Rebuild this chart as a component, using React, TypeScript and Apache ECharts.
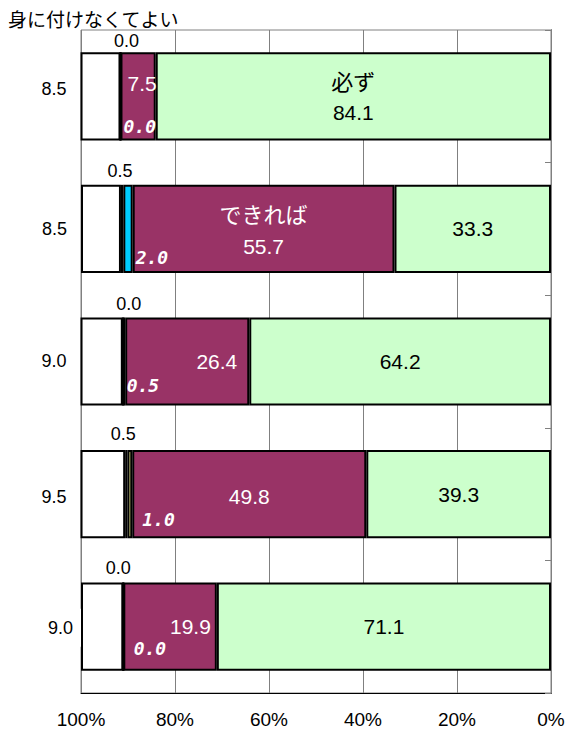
import React, { useEffect, useRef } from 'react';
import * as echarts from 'echarts';

// ---- data ----
const categories = ['1', '2', '3', '4', '5'];
const seriesNames = ['必ず', 'できれば', '系列3', '系列4', '身に付けなくてよい'];
const mustValues = [84.1, 33.3, 64.2, 39.3, 71.1];
const preferValues = [7.5, 55.7, 26.4, 49.8, 19.9];
const smallValues = [0.0, 2.0, 0.5, 1.0, 0.0];
const tinyValues = [0.0, 0.5, 0.0, 0.5, 0.0];
const notNeededValues = [8.5, 8.5, 9.0, 9.5, 9.0];
const xMin = 0;
const xMax = 100;
const xStep = 20;

// ---- styles / label placement ----
const FONT_NUM = "'Liberation Sans', 'Noto Sans CJK JP', sans-serif";
const FONT_JP = "'Noto Sans CJK JP', 'Noto Sans', sans-serif";
const FONT_MONO = "'DejaVu Sans Mono', monospace";
const GRAY = '#808080';
const smallColors = ['#00CCFF', '#00CCFF', '#00CCFF', '#FFFF99', '#00CCFF'];
const smallLabelNudge = [[2, 30], [3, 28.5], [1.5, 23.5], [10, 25], [9.4, 22]];
const tinyLabelDistance = [1, 5, 3.5, 7.5, 4.5];
const tinyLabelDx = [6, -2, 6, -3, -5];
const preferLabelPlace: any[] = [
  { position: 'insideRight', distance: 0, offset: [1, -13] },
  { position: 'inside', distance: 0, offset: [0, 1] },
  { position: 'insideRight', distance: 12, offset: [0, 0] },
  { position: 'inside', distance: 0, offset: [0, 2] },
  { position: 'insideRight', distance: 6, offset: [0, 0] },
];
const mustNamedRow = 0;
const preferNamedRow = 1;
const notNeededLabelDy = [-7, 0, -1, 3, 1];
const maskedLabelRow = 4;

const fmt = (v: number) => v.toFixed(1);

export default function App() {
  const ref = useRef<HTMLDivElement>(null);
  useEffect(() => {
    if (!ref.current) return;
    const chart = echarts.init(ref.current, null, { renderer: 'svg' });
    const barBase = {
      type: 'bar',
      stack: 'total',
      barCategoryGap: '33.5%',
      itemStyle: { borderColor: '#000', borderWidth: 2 },
      emphasis: { disabled: true },
    };
    const rich = (color: string) => ({
      n: { fontFamily: FONT_JP, fontSize: 22, lineHeight: 33, color },
      v: { fontFamily: FONT_NUM, fontSize: 21, lineHeight: 33, color },
    });
    const option: any = {
      animation: false,
      textStyle: { fontFamily: FONT_NUM },
      title: {
        text: seriesNames[4],
        left: 8,
        top: 8,
        padding: 0,
        textStyle: { fontFamily: FONT_JP, fontSize: 19, fontWeight: 'normal', color: '#000', lineHeight: 21 },
      },
      grid: {
        left: 81,
        right: 17,
        top: 30,
        bottom: 43,
        show: true,
        borderColor: GRAY,
        borderWidth: 1,
      },
      xAxis: {
        type: 'value',
        inverse: true,
        min: xMin,
        max: xMax,
        interval: xStep,
        axisLine: { show: true, lineStyle: { color: '#000', width: 1 } },
        axisTick: { show: false },
        axisLabel: {
          formatter: '{value}%',
          fontSize: 19,
          color: '#000',
          margin: 17,
          fontFamily: FONT_NUM,
        },
        splitLine: { show: true, lineStyle: { color: GRAY, width: 1 } },
      },
      yAxis: [
        {
          type: 'category',
          data: categories,
          inverse: true,
          position: 'left',
          axisLine: { show: true, lineStyle: { color: '#000', width: 1 } },
          axisTick: { show: false },
          axisLabel: { show: false },
          splitLine: { show: false },
        },
        {
          type: 'category',
          data: categories,
          inverse: true,
          position: 'right',
          axisLine: { show: true, lineStyle: { color: GRAY, width: 1 } },
          axisTick: { show: true, inside: true, length: 6, lineStyle: { color: GRAY } },
          axisLabel: { show: false },
          splitLine: { show: false },
        },
      ],
      series: [
        {
          ...barBase,
          name: seriesNames[0],
          itemStyle: { ...barBase.itemStyle, color: '#CCFFCC' },
          data: mustValues,
          label: {
            show: true,
            position: 'inside',
            formatter: (p: any) =>
              p.dataIndex === mustNamedRow
                ? `{n|${p.seriesName}}\n{v|${fmt(p.value)}}`
                : `{v|${fmt(p.value)}}`,
            rich: rich('#000'),
          },
        },
        {
          ...barBase,
          name: seriesNames[1],
          itemStyle: { ...barBase.itemStyle, color: '#993366' },
          data: preferValues.map((v, i) => ({
            value: v,
            label: { ...preferLabelPlace[i] },
          })),
          label: {
            show: true,
            formatter: (p: any) =>
              p.dataIndex === preferNamedRow
                ? `{n|${p.seriesName}}\n{v|${fmt(p.value)}}`
                : `{v|${fmt(p.value)}}`,
            rich: rich('#fff'),
          },
        },
        {
          ...barBase,
          name: seriesNames[2],
          data: smallValues.map((v, i) => ({
            value: v,
            itemStyle: { color: smallColors[i] },
            label: { offset: smallLabelNudge[i] },
          })),
          label: {
            show: true,
            position: 'right',
            distance: 0,
            formatter: (p: any) => fmt(p.value),
            color: '#fff',
            fontFamily: FONT_MONO,
            fontWeight: 'bold',
            fontStyle: 'italic',
            fontSize: 18,
          },
        },
        {
          ...barBase,
          name: seriesNames[3],
          itemStyle: { ...barBase.itemStyle, color: '#000' },
          data: tinyValues.map((v, i) => ({
            value: v,
            label: { distance: tinyLabelDistance[i], offset: [tinyLabelDx[i], 0] },
          })),
          label: {
            show: true,
            position: 'top',
            formatter: (p: any) => fmt(p.value),
            color: '#000',
            fontSize: 18,
            fontFamily: FONT_NUM,
          },
        },
        {
          ...barBase,
          name: seriesNames[4],
          itemStyle: { ...barBase.itemStyle, color: '#fff' },
          data: notNeededValues.map((v, i) => ({
            value: v,
            label:
              i === maskedLabelRow
                ? {
                    offset: [0, notNeededLabelDy[i]],
                    distance: 0,
                    backgroundColor: '#fff',
                    padding: [10, 8, 10, 2],
                  }
                : { offset: [0, notNeededLabelDy[i]] },
          })),
          label: {
            show: true,
            position: 'left',
            distance: 14,
            formatter: (p: any) => fmt(p.value),
            color: '#000',
            fontSize: 18,
            fontFamily: FONT_NUM,
          },
        },
      ],
    };
    chart.setOption(option);
    return () => chart.dispose();
  }, []);
  return (
    <div
      ref={ref}
      style={{ position: 'fixed', left: 0, top: 0, width: 568, height: 736, background: '#fff' }}
    />
  );
}
